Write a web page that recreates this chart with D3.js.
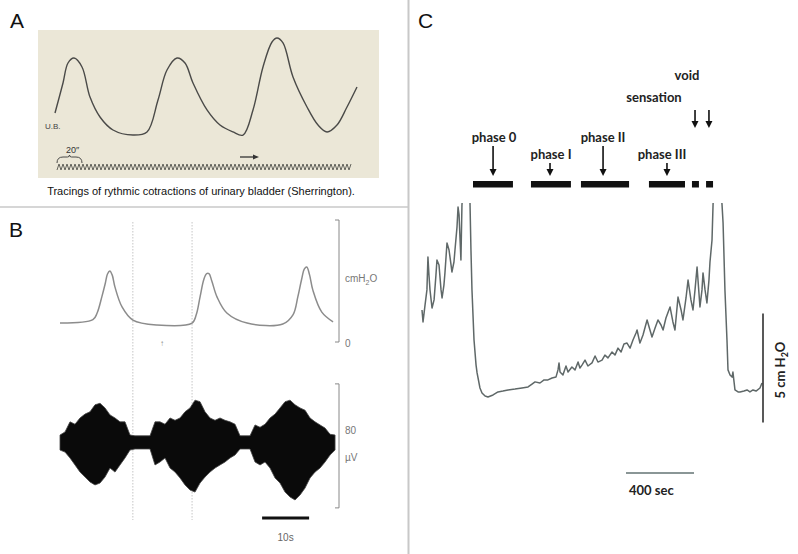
<!DOCTYPE html>
<html>
<head>
<meta charset="utf-8">
<script src="https://cdn.jsdelivr.net/npm/d3@7"></script>
<style>
  html, body { margin: 0; padding: 0; background: #fff; }
  svg { display: block; }
</style>
</head>
<body>
<div id="chart"></div>
<script>
// ---- panel A: Sherrington tracing (time s, pressure arbitrary)
const tracingA = [
  [0, 24.5], [6.4, 51.8], [10.4, 70], [15.2, 74.5], [21.6, 66.4], [28, 39], [36, 20.9],
  [46.4, 9.1], [62.4, 4.5], [73.6, 7.3], [82.4, 36.4], [89.6, 63.6], [97.6, 74.5],
  [104, 70], [110.4, 51.8], [121.6, 27.3], [132, 13.6], [142.4, 7.3], [150.4, 4.5],
  [158.4, 27.3], [166.4, 66.4], [173.6, 89.1], [177.6, 92.7], [182.4, 88.2],
  [190.4, 57.3], [201.6, 30], [210.4, 13.6], [217.6, 7.3], [225.6, 13.6], [233.6, 30],
  [241.6, 48.2]
];
const markerPeriodA = 3.2;   // seconds per tick of the time marker
const markerRangeA = [1.6, 237.6];

// ---- panel B: bladder pressure (s, cmH2O) and EMG envelope (µV)
const pressureB = [
  [0, 6.2], [7, 7.3], [7.9, 9.5], [8.9, 14.8], [9.6, 19], [10.1, 22.3], [10.6, 23.3],
  [11.1, 22], [11.7, 18], [13.2, 11.5], [15.5, 7.2], [20.6, 5.6], [28.1, 6.2], [29, 9],
  [29.8, 14.8], [30.6, 20.5], [31.2, 22.4], [31.7, 22.4], [32.3, 20], [33.4, 14.8],
  [35.5, 9.5], [39.8, 6.2], [47.4, 5.9], [49.6, 9], [50.6, 14.8], [51.4, 20.5],
  [52, 24], [52.5, 24.6], [53.1, 22], [53.8, 17], [55.7, 9.8], [58.1, 6.6]
];
const emgDt = 1.064;
const emgUpper = [4.5, 6.5, 13, 11.5, 15.5, 18, 19.5, 24, 25, 22, 17.5, 15.5, 13, 13, 4.5,
  4, 4, 4, 4, 13, 13, 11.5, 15.5, 14, 15.5, 19.5, 22, 27, 26, 19.5, 15.5, 14, 15.5, 14, 13,
  11.5, 4, 4, 4, 11, 9.5, 11.5, 15.5, 18, 22, 26, 27, 24, 22, 20.5, 15.5, 13, 11, 9, 5, 4.5];
const emgLower = [5.2, 6.5, 10.3, 14.8, 19.4, 22.6, 25.8, 27.7, 26.5, 22.6, 16.8, 19.4, 14.8,
  10.3, 5.2, 4.5, 4.5, 4.5, 4.5, 14.8, 12.9, 10.3, 16.8, 19.4, 23.2, 27.7, 31, 32.3, 26.5,
  22.6, 19.4, 16.8, 14.8, 12.9, 10.3, 8.4, 4.5, 4.5, 4.5, 12.9, 14.8, 12.9, 16.8, 23.2, 26.5,
  32.3, 35.5, 37.4, 34.2, 29.7, 23.2, 19.4, 16.8, 12.9, 8.4, 5.2];
const guideTimesB = [15.5, 28.1];
const markTimeB = 21.7;
const scaleBarB = [43, 53];

// ---- panel C: cystometry trace (s, cmH2O)
const traceC = [
  [0, 4.36], [6, 3.81], [18, 4.59], [29, 5.28], [35, 6.79], [41, 5.96], [47, 5.28], [59, 4.45],
  [71, 4.82], [82, 5.96], [88, 6.65], [100, 6.42], [112, 5.28], [118, 4.91], [129, 5.5],
  [135, 6.06], [147, 7.43], [159, 7.11], [171, 6.42], [176, 6.1], [188, 6.56], [194, 7.11],
  [206, 8.17], [212, 9.08], [218, 8.72], [224, 7.57], [229, 6.65], [235, 9.17], [241, 9.86],
  [253, 10.78], [271, 10.78], [282, 9.4], [288, 7.11], [294, 5.28], [306, 2.98], [318, 1.83],
  [324, 1.47], [341, 0.78], [353, 0.55], [371, 0.41], [388, 0.37], [418, 0.46], [447, 0.6],
  [476, 0.64], [506, 0.69], [547, 0.73], [588, 0.78], [624, 0.83], [647, 0.96], [665, 1.06],
  [694, 1.01], [718, 1.15], [741, 1.15], [765, 1.24], [788, 1.28], [800, 1.61], [806, 1.93],
  [812, 1.51], [829, 1.38], [847, 1.79], [859, 1.51], [882, 1.74], [900, 1.61], [918, 1.97],
  [929, 1.7], [941, 1.83], [959, 2.06], [976, 1.79], [1000, 1.93], [1018, 2.25], [1035, 1.97],
  [1059, 2.06], [1076, 2.29], [1094, 2.16], [1118, 2.43], [1135, 2.29], [1153, 2.61],
  [1171, 2.43], [1188, 2.8], [1206, 2.84], [1224, 2.61], [1241, 2.98], [1259, 3.3],
  [1265, 3.44], [1282, 2.84], [1300, 3.21], [1324, 3.9], [1341, 3.44], [1353, 3.12],
  [1371, 3.53], [1388, 3.9], [1406, 3.67], [1418, 3.44], [1435, 3.99], [1459, 4.5],
  [1476, 3.81], [1488, 3.44], [1506, 4.95], [1524, 4.36], [1535, 3.9], [1553, 4.91],
  [1565, 5.73], [1582, 4.82], [1594, 4.36], [1606, 5.28], [1618, 6.33], [1635, 4.5],
  [1647, 5.28], [1653, 6.06], [1665, 5.28], [1676, 4.68], [1688, 5.73], [1694, 6.56],
  [1706, 7.57], [1712, 9.17], [1718, 10.3], [1741, 10.8], [1759, 9.86], [1765, 9.17],
  [1771, 8.35], [1782, 5.28], [1794, 2.98], [1800, 1.61], [1812, 1.38], [1824, 1.28],
  [1829, 1.51], [1841, 0.69], [1859, 0.6], [1871, 0.6], [1894, 0.64], [1912, 0.69],
  [1929, 0.6], [1947, 0.69], [1965, 0.64], [1988, 0.78], [2000, 1.01]
];
const phaseBars = [[300, 535], [641, 876], [935, 1218], [1335, 1547], [1588, 1629], [1671, 1712]];
const phaseLabels = ["phase 0", "phase I", "phase II", "phase III"];
const phaseLabelTimes = [424, 759, 1065, 1412];
const phaseArrowTimes = [418, 753, 1065, 1441];
const phaseLong = [true, false, true, false];
const voidArrowTimes = [1606, 1688];
const timeBarC = [1200, 1600];
const pressureBarC = [-0.8, 4.2];

const W = 798, H = 554;
const svg = d3.select("#chart").append("svg").attr("width", W).attr("height", H);
const sans = "'Liberation Sans', Arial, Helvetica, sans-serif";
const bold = "Lato, 'Open Sans', sans-serif";

// dividers
svg.append("line").attr("x1", 408.5).attr("x2", 408.5).attr("y1", 0).attr("y2", H)
  .attr("stroke", "#c8c8c8").attr("stroke-width", 2);
svg.append("line").attr("x1", 0).attr("x2", 408).attr("y1", 207).attr("y2", 207)
  .attr("stroke", "#c8c8c8").attr("stroke-width", 1.5);

// panel letters
[["A", 10, 28], ["B", 9, 237], ["C", 418, 28]].forEach(([t, x, y]) => {
  svg.append("text").attr("x", x).attr("y", y).text(t)
    .attr("font-family", sans).attr("font-size", 21).attr("fill", "#111");
});

// ================= panel A
const gA = svg.append("g");
gA.append("rect").attr("x", 38).attr("y", 30).attr("width", 341).attr("height", 148)
  .attr("fill", "#ebe7d7");
const xA = d3.scaleLinear().domain([0, 240]).range([55, 355]);
const yA = d3.scaleLinear().domain([0, 100]).range([140, 30]);
gA.append("path").datum(tracingA)
  .attr("d", d3.line().x(d => xA(d[0])).y(d => yA(d[1])).curve(d3.curveCatmullRom.alpha(0.5)))
  .attr("fill", "none").attr("stroke", "#4a4a48").attr("stroke-width", 1.4);

// time marker zigzag
const ticksA = d3.range(markerRangeA[0], markerRangeA[1], markerPeriodA / 2);
gA.append("path")
  .attr("d", d3.line()(ticksA.map((t, i) => [xA(t), i % 2 ? 164 : 170])))
  .attr("fill", "none").attr("stroke", "#55554f").attr("stroke-width", 0.9);
// 20" brace
const bx0 = xA(1.6), bx1 = xA(21.6), bm = (bx0 + bx1) / 2;
gA.append("path")
  .attr("d", `M${bx0},163 Q${bx0},157 ${bx0 + 6},157 L${bm - 2},157 Q${bm},157 ${bm},155 Q${bm},157 ${bm + 2},157 L${bx1 - 6},157 Q${bx1},157 ${bx1},163`)
  .attr("fill", "none").attr("stroke", "#4a4a48").attr("stroke-width", 1);
gA.append("text").attr("x", bm + 3).attr("y", 153).attr("text-anchor", "middle")
  .text("20\u2033").attr("font-family", sans).attr("font-size", 9).attr("fill", "#333");
gA.append("text").attr("x", 45).attr("y", 129).text("U.B.")
  .attr("font-family", sans).attr("font-size", 8).attr("fill", "#444");
// arrow
gA.append("line").attr("x1", xA(148)).attr("x2", xA(160)).attr("y1", 157).attr("y2", 157)
  .attr("stroke", "#333").attr("stroke-width", 1.3);
gA.append("path").attr("d", `M${xA(160) + 4},157 L${xA(160) - 2},154.5 L${xA(160) - 2},159.5 Z`)
  .attr("fill", "#333");
gA.append("text").attr("x", 201).attr("y", 195).attr("text-anchor", "middle")
  .text("Tracings of rythmic cotractions of urinary bladder (Sherrington).")
  .attr("font-family", sans).attr("font-size", 11).attr("fill", "#111");

// ================= panel B
const gB = svg.append("g");
const xB = d3.scaleLinear().domain([0, 60]).range([60, 342]);
const yBp = d3.scaleLinear().domain([0, 40]).range([342, 220]);
const yBe = d3.scaleLinear().domain([-40, 40]).range([504, 380]);

guideTimesB.forEach(t => {
  gB.append("line").attr("x1", xB(t)).attr("x2", xB(t)).attr("y1", 222).attr("y2", 520)
    .attr("stroke", "#b8b8b8").attr("stroke-width", 0.8).attr("stroke-dasharray", "1.5,1.5");
});

gB.append("path").datum(pressureB)
  .attr("d", d3.line().x(d => xB(d[0])).y(d => yBp(d[1])).curve(d3.curveCatmullRom.alpha(0.5)))
  .attr("fill", "none").attr("stroke", "#8c8c8c").attr("stroke-width", 1.5);
gB.append("text").attr("x", xB(markTimeB)).attr("y", 346).attr("text-anchor", "middle")
  .text("\u2191").attr("font-family", sans).attr("font-size", 8).attr("fill", "#888");

const emg = emgUpper.map((u, i) => ({ t: i * emgDt, hi: u, lo: emgLower[i] }));
gB.append("path").datum(emg)
  .attr("d", d3.area().x(d => xB(d.t)).y0(d => yBe(-d.lo)).y1(d => yBe(d.hi)))
  .attr("fill", "#0a0a0a").attr("stroke", "#444").attr("stroke-width", 0.8);

// brackets
function bracket(g, x, y0, y1) {
  g.append("path").attr("d", `M${x - 4},${y0} L${x},${y0} L${x},${y1} L${x - 4},${y1}`)
    .attr("fill", "none").attr("stroke", "#888").attr("stroke-width", 1);
}
bracket(gB, 339, yBp(40), yBp(0));
bracket(gB, 339, yBe(37.5), yBe(-42.5));
const lab = gB.append("text").attr("x", 345).attr("y", 282)
  .attr("font-family", sans).attr("font-size", 10).attr("fill", "#777");
lab.append("tspan").text("cmH");
lab.append("tspan").attr("font-size", 7).attr("dy", 3).text("2");
lab.append("tspan").attr("dy", -3).text("O");
gB.append("text").attr("x", 345).attr("y", 347).text("0")
  .attr("font-family", sans).attr("font-size", 10).attr("fill", "#777");
gB.append("text").attr("x", 345).attr("y", 434).text("80")
  .attr("font-family", sans).attr("font-size", 10).attr("fill", "#777");
gB.append("text").attr("x", 345).attr("y", 461).text("\u00b5V")
  .attr("font-family", sans).attr("font-size", 10).attr("fill", "#777");
gB.append("line").attr("x1", xB(scaleBarB[0])).attr("x2", xB(scaleBarB[1]))
  .attr("y1", 518).attr("y2", 518).attr("stroke", "#111").attr("stroke-width", 3);
gB.append("text").attr("x", xB((scaleBarB[0] + scaleBarB[1]) / 2)).attr("y", 541)
  .attr("text-anchor", "middle").text("10s")
  .attr("font-family", sans).attr("font-size", 10).attr("fill", "#666");

// ================= panel C
const gC = svg.append("g");
const xC = d3.scaleLinear().domain([0, 2000]).range([422, 762]);
const yC = d3.scaleLinear().domain([0, 10]).range([405, 187]);

svg.append("defs").append("clipPath").attr("id", "clipC")
  .append("rect").attr("x", 410).attr("y", 203).attr("width", 388).attr("height", 351);

gC.append("path").datum(traceC).attr("clip-path", "url(#clipC)")
  .attr("d", d3.line().x(d => xC(d[0])).y(d => yC(d[1])))
  .attr("fill", "none").attr("stroke", "#5f6868").attr("stroke-width", 1.5)
  .attr("stroke-linejoin", "round");

gC.selectAll("rect.phase").data(phaseBars).join("rect").attr("class", "phase")
  .attr("x", d => xC(d[0])).attr("width", d => xC(d[1]) - xC(d[0]))
  .attr("y", 181).attr("height", 6.5).attr("fill", "#111");

function arrow(g, x, y0, y1) {
  g.append("line").attr("x1", x).attr("x2", x).attr("y1", y0).attr("y2", y1 - 5)
    .attr("stroke", "#111").attr("stroke-width", 1.6);
  g.append("path").attr("d", `M${x - 3.5},${y1 - 7} L${x + 3.5},${y1 - 7} L${x},${y1} Z`)
    .attr("fill", "#111");
}
phaseLabels.forEach((name, i) => {
  const top = phaseLong[i] ? 142 : 159;
  gC.append("text").attr("x", xC(phaseLabelTimes[i])).attr("y", top)
    .attr("text-anchor", "middle").text(name)
    .attr("font-family", bold).attr("font-weight", "bold").attr("font-size", 13).attr("fill", "#222");
  arrow(gC, xC(phaseArrowTimes[i]), top + 4, 176);
});
gC.append("text").attr("x", 654).attr("y", 102).attr("text-anchor", "middle").text("sensation")
  .attr("font-family", bold).attr("font-weight", "bold").attr("font-size", 13).attr("fill", "#222");
gC.append("text").attr("x", 687).attr("y", 80).attr("text-anchor", "middle").text("void")
  .attr("font-family", bold).attr("font-weight", "bold").attr("font-size", 13).attr("fill", "#222");
voidArrowTimes.forEach(t => arrow(gC, xC(t), 110, 128));

// scale bars
gC.append("line").attr("x1", xC(timeBarC[0])).attr("x2", xC(timeBarC[1]))
  .attr("y1", 473).attr("y2", 473).attr("stroke", "#8a9696").attr("stroke-width", 2);
gC.append("text").attr("x", xC(timeBarC[0]) + 3).attr("y", 495).text("400 sec")
  .attr("font-family", bold).attr("font-weight", "bold").attr("font-size", 13).attr("fill", "#222");
gC.append("line").attr("x1", 763).attr("x2", 763)
  .attr("y1", yC(pressureBarC[1])).attr("y2", yC(pressureBarC[0]))
  .attr("stroke", "#222").attr("stroke-width", 1.5);
const ph = gC.append("text").attr("transform", "translate(785,370) rotate(-90)")
  .attr("text-anchor", "middle")
  .attr("font-family", bold).attr("font-weight", "bold").attr("font-size", 13).attr("fill", "#222");
ph.append("tspan").text("5 cm H");
ph.append("tspan").attr("font-size", 9).attr("dy", 3).text("2");
ph.append("tspan").attr("dy", -3).text("O");
</script>
</body>
</html>
